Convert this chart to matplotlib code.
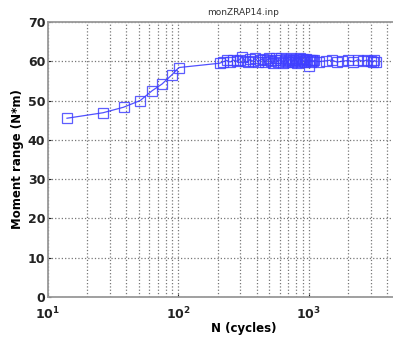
import matplotlib
matplotlib.use("Agg")
import matplotlib.pyplot as plt
from matplotlib.ticker import FixedLocator, LogLocator, NullFormatter

# cycles and moment range
cycles = [14, 26.5, 38, 51, 63, 75, 89, 101,
          208, 222, 236, 250, 265, 280, 295, 310, 325, 340, 355, 372,
          390, 408, 425, 443, 460, 478, 495, 512, 530, 548, 565, 583,
          600, 618, 636, 654, 672, 690, 708, 726, 744, 762, 780, 800,
          820, 840, 860, 880, 900, 920, 940, 960, 980, 1000, 1020, 1040,
          1060, 1080, 1100,
          1200, 1350, 1500, 1650, 1800, 2000, 2200, 2400, 2600, 2800,
          3000, 3100, 3200, 3300]
moment = [45.5, 46.9, 48.3, 50.0, 52.5, 54.2, 56.5, 58.4,
          59.5, 59.9, 60.2, 59.8, 60.3, 60.0, 60.4, 61.2, 60.1, 59.7, 60.5, 60.0,
          60.8, 59.9, 60.3, 60.6, 59.8, 60.2, 60.9, 60.0, 59.6, 60.4, 60.7, 59.9,
          60.3, 60.8, 59.5, 60.1, 60.5, 59.7, 60.2, 60.9, 59.8, 60.4, 60.0, 60.6,
          59.6, 60.3, 60.8, 59.9, 60.5, 60.1, 59.7, 60.6, 60.2, 58.7, 60.4, 59.9,
          60.3, 60.0, 60.2,
          59.9, 60.1, 60.3, 59.8, 60.0, 60.2, 59.9, 60.4, 60.0, 60.3,
          60.1, 59.8, 60.2, 59.9]

xticks = [10, 100, 1000, 10000]
xticklabels = [r'$\mathbf{10^{1}}$', r'$\mathbf{10^{2}}$',
               r'$\mathbf{10^{3}}$', '']
yticks = [0, 10, 20, 30, 40, 50, 60, 70]

fig = plt.figure(figsize=(3.93, 3.43), dpi=100)
ax = fig.add_axes([0.122, 0.134, 1.117 - 0.122, 0.936 - 0.134])

ax.plot(cycles, moment, color='#3333ff', linewidth=0.9, marker='s',
        markersize=7, markerfacecolor='none', markeredgecolor='#4040ff',
        markeredgewidth=0.9, alpha=0.85)

ax.set_xscale('log')
ax.set_xlim(10, 10000)
ax.set_ylim(0, 70)
ax.xaxis.set_major_locator(FixedLocator(xticks))
ax.set_xticklabels(xticklabels)
ax.xaxis.set_minor_locator(LogLocator(base=10, subs=range(2, 10)))
ax.xaxis.set_minor_formatter(NullFormatter())
ax.set_yticks(yticks)
ax.set_yticklabels([str(v) for v in yticks])

ax.grid(True, which='major', linestyle=':', color='#777777', linewidth=0.9)
ax.grid(True, which='minor', axis='x', linestyle=':', color='#777777', linewidth=0.9)

for lab in ax.get_yticklabels():
    lab.set_fontweight('bold')
ax.tick_params(axis='both', which='both', direction='in', labelsize=9,
               colors='#222222', length=2, pad=2)
ax.tick_params(axis='x', which='major', pad=6)
ax.tick_params(axis='x', which='minor', length=0)

for s in ax.spines.values():
    s.set_color('#999999')
    s.set_linewidth(1.3)

ax.set_title('monZRAP14.inp', fontsize=6.5, color='#333333', pad=5)
ax.set_xlabel('N (cycles)', fontsize=8.5, fontweight='bold', labelpad=0)
ax.set_ylabel('Moment range (N*m)', fontsize=8.5, fontweight='bold', labelpad=3)

fig.savefig('out.png', dpi=100)
